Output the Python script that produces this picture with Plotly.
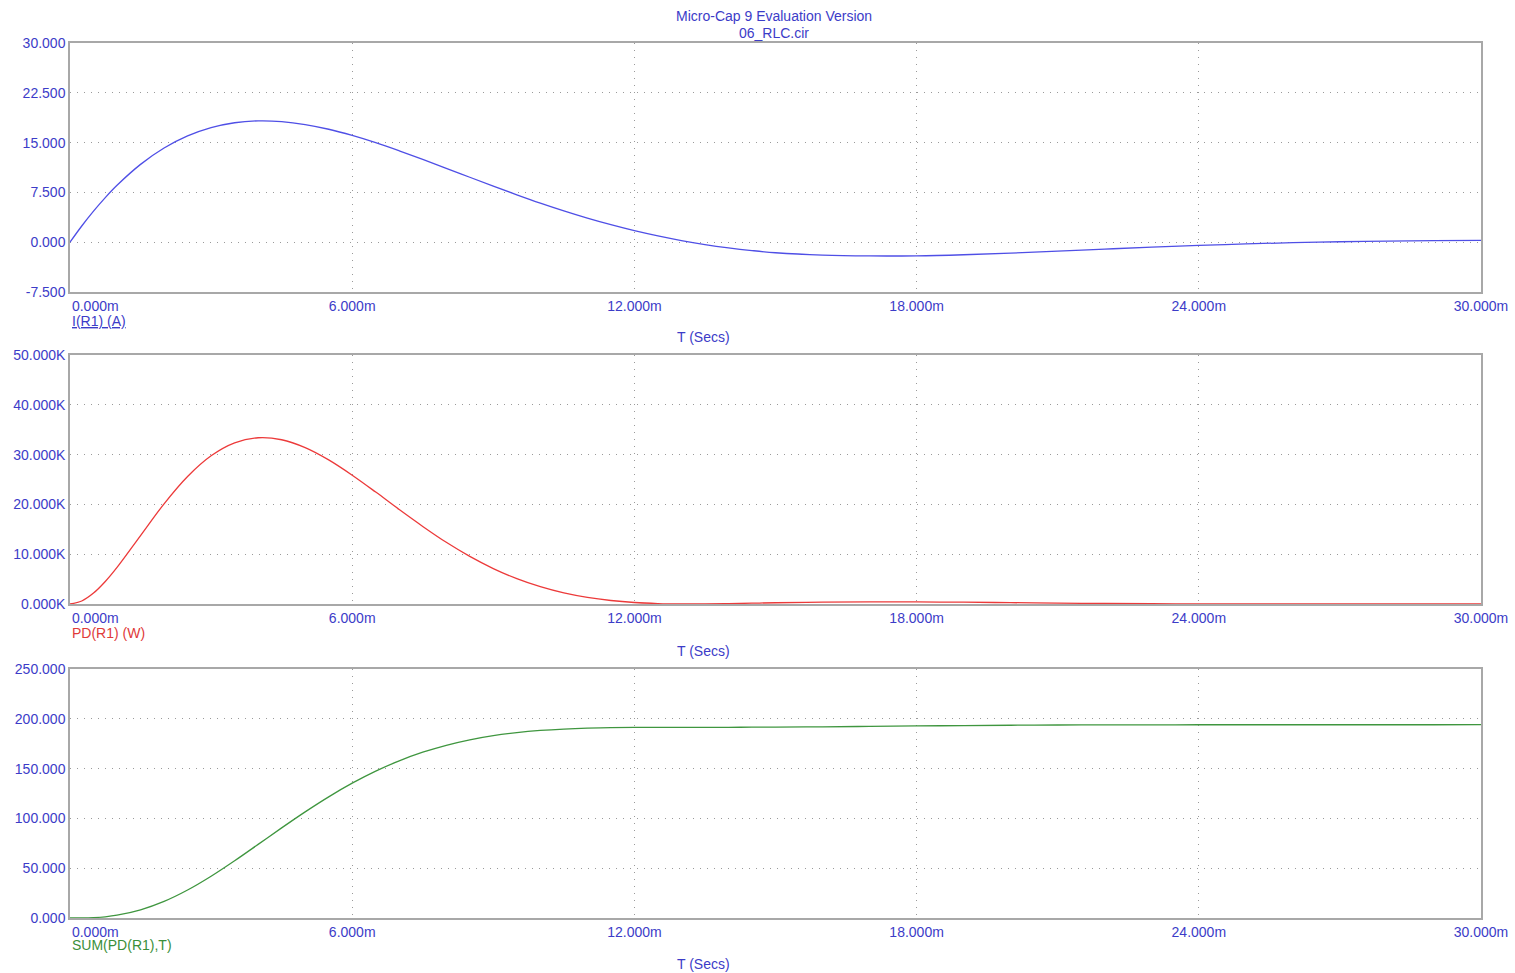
import plotly.graph_objects as go

# ---- data (time in ms) ----
t_ms = [0, 0.25, 0.5, 0.75, 1, 1.5, 2, 2.5, 3, 3.5, 4, 4.5, 5, 5.5, 6, 6.5, 7, 7.5, 8, 8.5, 9, 9.5,
        10, 10.5, 11, 11.5, 12, 12.5, 13, 13.5, 14, 14.5, 15,
        16, 17, 18, 19, 20, 21, 22, 23, 24, 25, 26, 27, 28, 29, 30]

i_r1 = [0, 2.44, 4.68, 6.72, 8.57, 11.72, 14.18, 16.00, 17.25, 17.99, 18.27, 18.16, 17.72, 17.01, 16.08,
        14.99, 13.77, 12.48, 11.13, 9.78, 8.44, 7.14, 5.89, 4.72, 3.63, 2.64, 1.74, 0.95,
        0.25, -0.35, -0.85, -1.26, -1.59,
        -1.95, -2.07, -2.05, -1.89, -1.65, -1.35, -1.04, -0.74, -0.48, -0.26, -0.07, 0.07,
        0.17, 0.23, 0.26]

pd_r1_k = [0, 0.60, 2.19, 4.52, 7.35, 13.74, 20.11, 25.60, 29.76, 32.36, 33.38, 32.98, 31.40, 28.93,
           25.86, 22.47, 18.96, 15.58, 12.39, 9.56, 7.12, 5.09, 3.47, 2.22, 1.32, 0.70, 0.30,
           0.09, 0.006, 0.012, 0.072, 0.16, 0.25,
           0.38, 0.43, 0.42, 0.36, 0.27, 0.18, 0.11, 0.055, 0.023, 0.007, 0.0005, 0.0005,
           0.003, 0.005, 0.007]

sum_pd = [0, 0.05, 0.40, 1.20, 2.80, 8.20, 16.66, 28.09, 41.93, 57.46, 73.90, 90.49, 106.58, 121.66,
          135.36, 147.44, 157.80, 166.44, 173.43, 178.92, 183.09, 186.14, 188.28, 189.70,
          190.59, 191.09, 191.34, 191.44, 191.46, 191.47, 191.49, 191.55, 191.65,
          191.97, 192.38, 192.82, 193.22, 193.54, 193.76, 193.90, 193.98, 194.02, 194.03,
          194.03, 194.03, 194.04, 194.05, 194.06]

x_ticks = [0, 6, 12, 18, 24, 30]
x_ticktext = ["\u00a0" * 13 + "0.000m", "6.000m", "12.000m", "18.000m", "24.000m", "30.000m"]

y1_ticks = [-7.5, 0, 7.5, 15, 22.5, 30]
y1_text = ["-7.500", "0.000", "7.500", "15.000", "22.500", "30.000"]
y2_ticks = [0, 10, 20, 30, 40, 50]
y2_text = ["0.000K", "10.000K", "20.000K", "30.000K", "40.000K", "50.000K"]
y3_ticks = [0, 50, 100, 150, 200, 250]
y3_text = ["0.000", "50.000", "100.000", "150.000", "200.000", "250.000"]

BLUE_TXT = "#3c3cc8"
FONT = "Liberation Sans, Arial, sans-serif"

fig = go.Figure()
fig.add_trace(go.Scatter(x=t_ms, y=i_r1, mode="lines", line=dict(color="#4f4fe6", width=1.3),
                         xaxis="x", yaxis="y", showlegend=False, line_shape="spline"))
fig.add_trace(go.Scatter(x=t_ms, y=pd_r1_k, mode="lines", line=dict(color="#ec3a3a", width=1.3),
                         xaxis="x2", yaxis="y2", showlegend=False, line_shape="spline"))
fig.add_trace(go.Scatter(x=t_ms, y=sum_pd, mode="lines", line=dict(color="#3f963f", width=1.3),
                         xaxis="x3", yaxis="y3", showlegend=False, line_shape="spline"))

H = 875.0
def dom(top_px, bot_px):
    return [(918 - bot_px) / H, (918 - top_px) / H]

common_ax = dict(showline=True, mirror=True, linecolor="#a8a8a8", linewidth=1.5,
                 showgrid=True, gridcolor="#9a9a9a", griddash="1px,6px", gridwidth=1,
                 zeroline=False, ticks="", tickfont=dict(family=FONT, size=14, color=BLUE_TXT),
                 tickmode="array", fixedrange=True, ticklabeloverflow="allow",
                 automargin=False)

layout = dict(
    width=1515, height=973,
    margin=dict(l=70, r=34, t=43, b=55, autoexpand=False),
    paper_bgcolor="white", plot_bgcolor="white",
    font=dict(family=FONT, size=14, color=BLUE_TXT),
)
for k, anchor in enumerate(["y", "y2", "y3"], start=1):
    sfx = "" if k == 1 else str(k)
    layout["xaxis" + sfx] = dict(common_ax, domain=[0, 1], range=[0, 30], anchor=anchor,
                                 tickvals=x_ticks, ticktext=x_ticktext)
for sfx, yd, rng, tv, tt in [("", dom(43, 292), [-7.5, 30], y1_ticks, y1_text),
                             ("2", dom(355, 604), [0, 50], y2_ticks, y2_text),
                             ("3", dom(669, 918), [0, 250], y3_ticks, y3_text)]:
    layout["yaxis" + sfx] = dict(common_ax, domain=yd, range=rng, anchor="x" + sfx,
                                 tickvals=tv, ticktext=tt)
fig.update_layout(**layout)

def py(p):
    return (918 - p) / H

def px(p):
    return (p - 70) / 1411.0

ann = [
    ("Micro-Cap 9 Evaluation Version", 774, 16, "center", BLUE_TXT),
    ("06_RLC.cir", 774, 33, "center", BLUE_TXT),
    ("<u>I(R1) (A)</u>", 70, 321, "left", BLUE_TXT),
    ("T (Secs)", 703, 337, "center", BLUE_TXT),
    ("PD(R1) (W)", 70, 633, "left", "#e03a3a"),
    ("T (Secs)", 703, 651, "center", BLUE_TXT),
    ("SUM(PD(R1),T)", 70, 945, "left", "#3a8f3a"),
    ("T (Secs)", 703, 964, "center", BLUE_TXT),
]
for text, x, y, xa, col in ann:
    fig.add_annotation(text=text, x=px(x), y=py(y), xref="paper", yref="paper",
                       xanchor=xa, yanchor="middle", showarrow=False,
                       font=dict(family=FONT, size=14, color=col))

fig.write_html("out.html", config={"displayModeBar": False},
               post_script="document.body.style.margin='0';document.body.style.overflow='hidden';")
